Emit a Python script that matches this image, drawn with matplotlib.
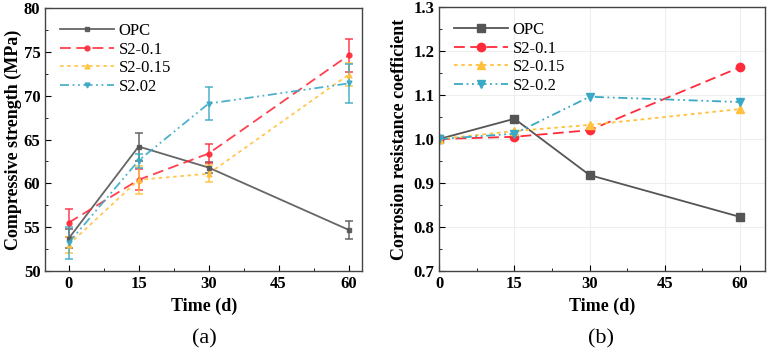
import matplotlib
matplotlib.use("Agg")
import matplotlib.pyplot as plt
from matplotlib.ticker import MultipleLocator

plt.rcParams['font.family'] = ['Liberation Serif', 'DejaVu Serif']

# data
days = [0, 15, 30, 60]
labels_a = ["OPC", "S2-0.1", "S2-0.15", "S2.02"]
labels_b = ["OPC", "S2-0.1", "S2-0.15", "S2-0.2"]

opc_str = [53.7, 64.2, 61.8, 54.7]
opc_err = [1.1, 1.6, 0.6, 1.0]
s01_str = [55.5, 60.4, 63.4, 74.6]
s01_err = [1.6, 1.2, 1.1, 1.9]
s015_str = [53.0, 60.4, 61.1, 72.4]
s015_err = [0.9, 1.6, 1.0, 1.3]
s02_str = [53.2, 62.6, 69.1, 71.4]
s02_err = [1.8, 0.8, 1.9, 2.2]

opc_k = [1.0, 1.046, 0.918, 0.823]
s01_k = [1.0, 1.005, 1.020, 1.163]
s015_k = [1.0, 1.018, 1.032, 1.068]
s02_k = [1.0, 1.012, 1.096, 1.084]

colors = ["#555555", "#ff2b3b", "#ffc23d", "#3aa9c6"]
styles = ["-", (0, (6, 3)), (0, (2, 2)), (0, (5, 2, 1, 2, 1, 2))]
markers = ["s", "o", "^", "v"]

fig = plt.figure(figsize=(7.68, 3.51), dpi=100)
ax1 = fig.add_axes([0.059, 0.228, 0.413, 0.749])
ax2 = fig.add_axes([0.572, 0.228, 0.424, 0.752])

# (a) compressive strength
vals = [opc_str, s01_str, s015_str, s02_str]
errs = [opc_err, s01_err, s015_err, s02_err]
handles = []
for v, e, c, ls, m, lab in zip(vals, errs, colors, styles, markers, labels_a):
    eb = ax1.errorbar(days, v, yerr=e, color=c, ls=ls, marker=m, ms=3.5, lw=1.3,
                      ecolor=c, elinewidth=1.1, capsize=3, capthick=1.1,
                      alpha=0.9)
    eb.lines[0].set_label(lab)
    handles.append(eb.lines[0])
ax1.set_xlim(-5, 63)
ax1.set_ylim(50, 80)
ax1.set_xticks([0, 15, 30, 45, 60])
ax1.set_yticks([50, 55, 60, 65, 70, 75, 80])
ax1.xaxis.set_minor_locator(MultipleLocator(7.5))
ax1.yaxis.set_minor_locator(MultipleLocator(2.5))
ax1.set_xlabel("Time (d)", fontsize=13, fontweight="bold")
ax1.set_ylabel("Compressive strength (MPa)", fontsize=13, fontweight="bold",
               labelpad=1)
ax1.legend(handles=handles, loc="upper left", frameon=False, fontsize=12,
           handlelength=3.2, borderaxespad=0.5, labelspacing=0.15,
           handletextpad=0.3)

# (b) corrosion resistance coefficient
kvals = [opc_k, s01_k, s015_k, s02_k]
for v, c, ls, m, lab in zip(kvals, colors, styles, markers, labels_b):
    ax2.plot(days, v, color=c, ls=ls, marker=m, ms=6, lw=1.3, label=lab)
ax2.set_xlim(0, 65)
ax2.set_ylim(0.7, 1.3)
ax2.set_xticks([0, 15, 30, 45, 60])
ax2.set_yticks([0.7, 0.8, 0.9, 1.0, 1.1, 1.2, 1.3])
ax2.xaxis.set_minor_locator(MultipleLocator(7.5))
ax2.yaxis.set_minor_locator(MultipleLocator(0.05))
ax2.grid(True, which="major", color="#eeeeee", lw=0.8)
ax2.set_axisbelow(True)
ax2.set_xlabel("Time (d)", fontsize=13, fontweight="bold")
ax2.set_ylabel("Corrosion resistance coefficient", fontsize=13, fontweight="bold")
ax2.legend(loc="upper left", frameon=False, fontsize=12, handlelength=3.2,
           borderaxespad=0.5, labelspacing=0.15, handletextpad=0.3)

for ax in (ax1, ax2):
    ax.tick_params(which="both", direction="in", labelsize=12)
    ax.tick_params(which="major", length=4)
    ax.tick_params(which="minor", length=2)
    for lbl in ax.get_xticklabels() + ax.get_yticklabels():
        lbl.set_fontweight("bold")
    for sp in ax.spines.values():
        sp.set_color("#444444")
        sp.set_linewidth(1.0)

fig.text(0.266, 0.022, "(a)", ha="center", fontsize=16)
fig.text(0.783, 0.022, "(b)", ha="center", fontsize=16)

fig.savefig("out.png", dpi=100)
